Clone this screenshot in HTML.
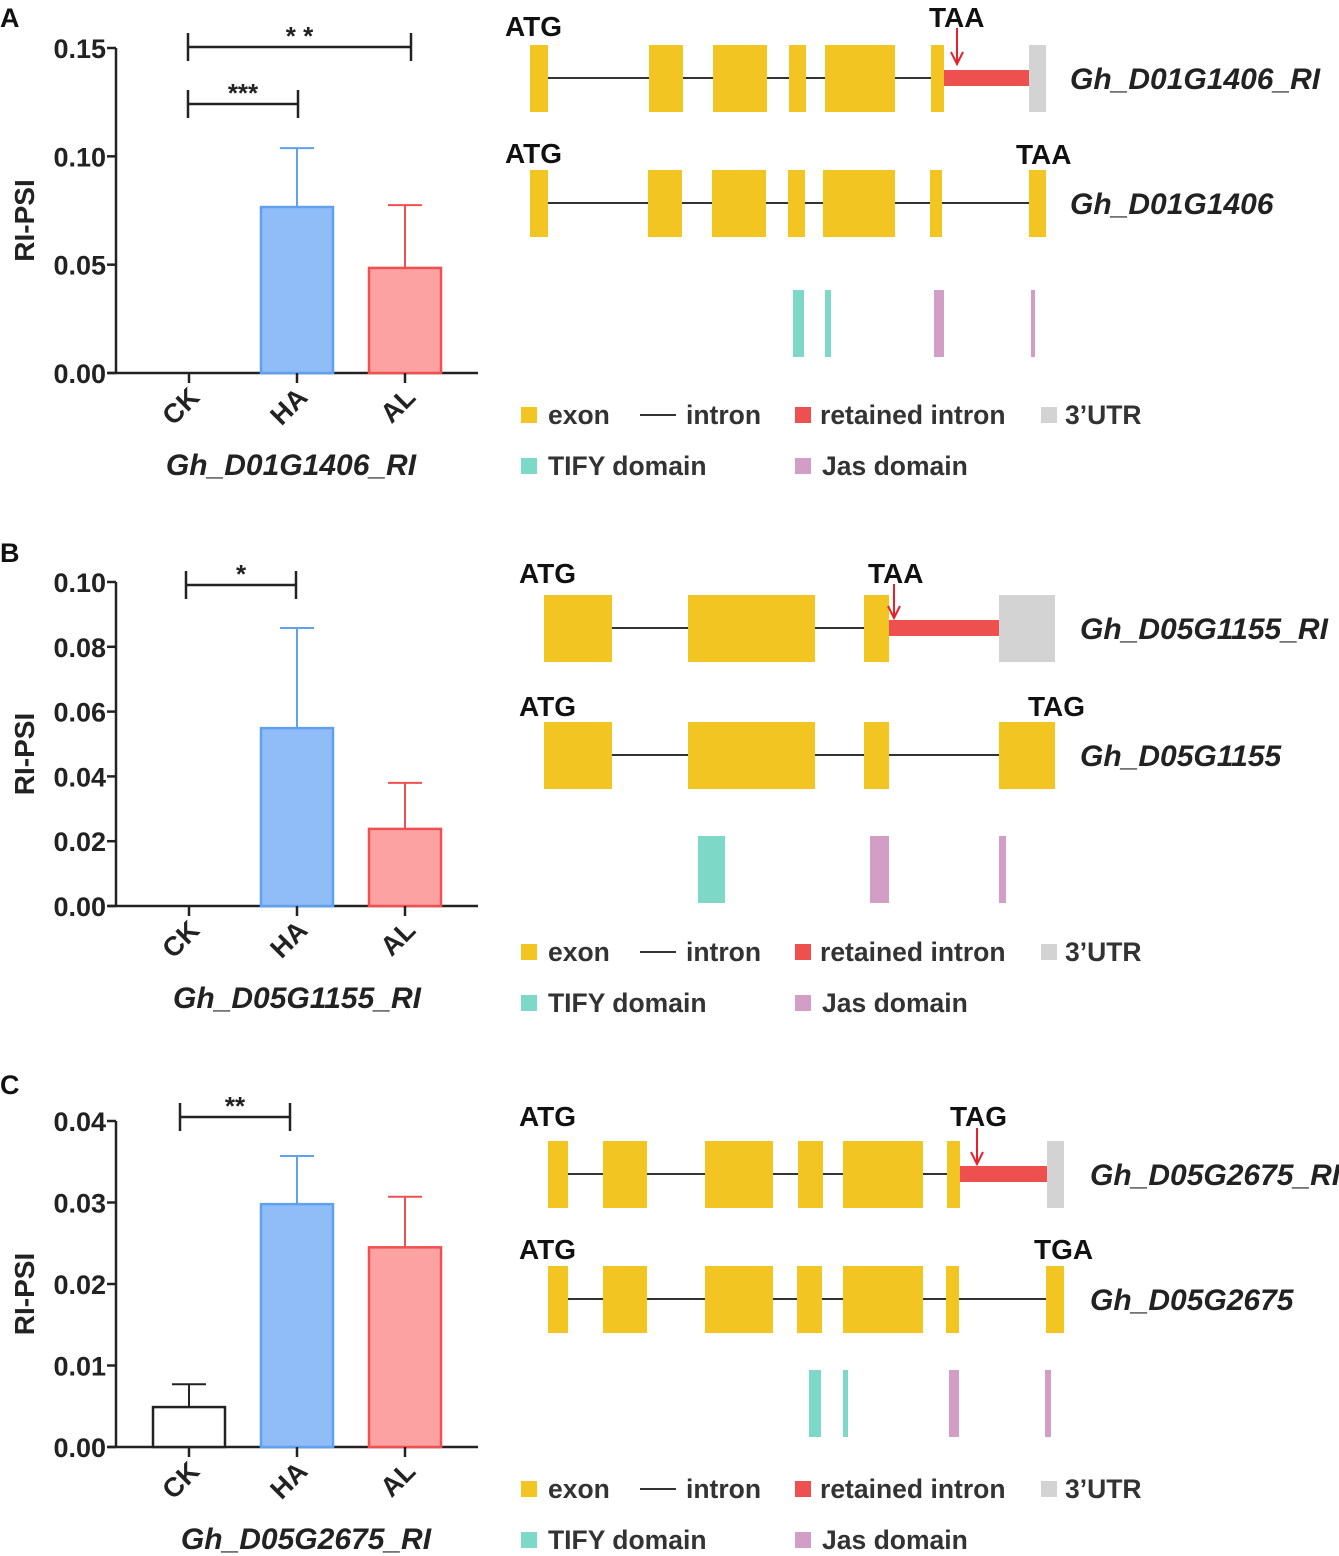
<!DOCTYPE html>
<html><head><meta charset="utf-8">
<style>
body{margin:0;background:#fff}
svg{display:block;font-family:"Liberation Sans",Arial,sans-serif}
</style></head>
<body>
<svg id="fig" width="1339" height="1556" viewBox="0 0 1339 1556" xmlns="http://www.w3.org/2000/svg"></svg>
<script>
// ---- Bar chart data ----
const categories = ["CK","HA","AL"];
const valuesA = [0, 0.0766, 0.0485];
const errorsA = [0, 0.0272, 0.029];
const valuesB = [0, 0.0549, 0.0238];
const errorsB = [0, 0.0309, 0.0142];
const valuesC = [0.0049, 0.0298, 0.0245];
const errorsC = [0.0028, 0.0059, 0.0062];
const ticksA = [0, 0.05, 0.10, 0.15];
const ticksB = [0, 0.02, 0.04, 0.06, 0.08, 0.10];
const ticksC = [0, 0.01, 0.02, 0.03, 0.04];
const tickLabelsA = ["0.00","0.05","0.10","0.15"];
const tickLabelsB = ["0.00","0.02","0.04","0.06","0.08","0.10"];
const tickLabelsC = ["0.00","0.01","0.02","0.03","0.04"];
const titles = ["Gh_D01G1406_RI","Gh_D05G1155_RI","Gh_D05G2675_RI"];

const NS="http://www.w3.org/2000/svg";
const svg=document.getElementById('fig');
function mk(tag,attrs,parent,text){const e=document.createElementNS(NS,tag);for(const k in attrs)e.setAttribute(k,attrs[k]);if(text!==undefined)e.textContent=text;(parent||svg).appendChild(e);return e;}

const fills=["#ffffff","#90bdf8","#fda2a2"];
const strokes=["#222","#5fa0ef","#f05050"];

function barChart(cfg){
  const g=mk('g',{});
  
  
  const x0=116,x1=478,yBase=cfg.y0,yTop=cfg.yTop,vmax=cfg.vmax;
  const ys=v=>yBase-(v/vmax)*(yBase-yTop);
  const xc=i=>[189,297,405][i];
  const ya=mk('line',{x1:x0,y1:yTop,x2:x0,y2:yBase,stroke:'#222','stroke-width':2.5},g);
  
  const xa=mk('line',{x1:x0-8,y1:yBase,x2:x1,y2:yBase,stroke:'#222','stroke-width':2.5},g);
  
  cfg.ticks.forEach((t,i)=>{
    mk('line',{x1:x0-9,y1:ys(t),x2:x0,y2:ys(t),stroke:'#222','stroke-width':2.5},g);
    const tl=mk('text',{x:x0-10,y:ys(t)+10,'text-anchor':'end','font-size':27,'font-weight':'bold',fill:'#222'},g,cfg.labels[i]);
    
  });
  const yt=mk('text',{x:0,y:0,transform:`translate(34,${(yTop+yBase)/2+10}) rotate(-90)`,'text-anchor':'middle','font-size':28,'font-weight':'bold',fill:'#222'},g,'RI-PSI');
  
  categories.forEach((c,i)=>{
    const v=cfg.values[i],e=cfg.errors[i];
    if(v>0){
      const top=ys(v+e);
      const el=mk('line',{x1:xc(i),y1:top,x2:xc(i),y2:ys(v),stroke:strokes[i],'stroke-width':2},g);
      
      mk('line',{x1:xc(i)-17,y1:top,x2:xc(i)+17,y2:top,stroke:strokes[i],'stroke-width':2},g);
      const b=mk('rect',{x:xc(i)-36,y:ys(v),width:72,height:yBase-ys(v),fill:fills[i],stroke:strokes[i],'stroke-width':2.5},g);
      
    }
    mk('line',{x1:xc(i),y1:yBase,x2:xc(i),y2:yBase+10,stroke:'#222','stroke-width':2.5},g);
    const xl=mk('text',{x:0,y:0,transform:`translate(${xc(i)+12},${yBase+26}) rotate(-45)`,'text-anchor':'end','font-size':27,'font-weight':'bold',fill:'#222'},g,c);
    
  });
  cfg.sig.forEach(s=>{
    mk('line',{x1:s[0],y1:s[2],x2:s[1],y2:s[2],stroke:'#222','stroke-width':2.5},g);
    mk('line',{x1:s[0],y1:s[2]-14,x2:s[0],y2:s[2]+14,stroke:'#222','stroke-width':2.5},g);
    mk('line',{x1:s[1],y1:s[2]-14,x2:s[1],y2:s[2]+14,stroke:'#222','stroke-width':2.5},g);
    const st=mk('text',{x:(s[0]+s[1])/2,y:s[2]-2,'text-anchor':'middle','font-size':26,'font-weight':'bold',fill:'#222'},g,s[3]);
    
  });
  const tt=mk('text',{x:cfg.titleX,y:yBase+102,'text-anchor':'middle','font-size':30,'font-weight':'bold','font-style':'italic',fill:'#222'},g,cfg.title);
  
}
barChart({id:'a',y0:373,yTop:48,vmax:0.15,values:valuesA,errors:errorsA,ticks:ticksA,labels:tickLabelsA,title:titles[0],titleX:291,sig:[[188,411,47,'* *'],[188,298,104,'***']]});
barChart({id:'b',y0:906,yTop:582,vmax:0.10,values:valuesB,errors:errorsB,ticks:ticksB,labels:tickLabelsB,title:titles[1],titleX:297,sig:[[186,296,585,'*']]});
barChart({id:'c',y0:1447,yTop:1121,vmax:0.04,values:valuesC,errors:errorsC,ticks:ticksC,labels:tickLabelsC,title:titles[2],titleX:306,sig:[[180,290,1117,'**']]});

[['A',18],['B',553],['C',1085]].forEach(p=>{
  const t=mk('text',{x:0,y:p[1]+9,'font-size':27,'font-weight':'bold',fill:'#111'},svg,p[0]);
  
});

// ---- Gene structures ----
const EX='#f2c523',RED='#ee5050',GRAY='#d3d3d3',TEAL='#7dd8c8',PINK='#d39ec6';
function gene(y,exons,lineFrom,lineTo,opts){
  const g=mk('g',{});
  
  
  const c=y+33;
  mk('line',{x1:lineFrom,y1:c,x2:lineTo,y2:c,stroke:'#333','stroke-width':2},g);
  exons.forEach(e=>{mk('rect',{x:e[0],y:y,width:e[1]-e[0],height:67,fill:EX},g);});
  if(opts.red){mk('rect',{x:opts.red[0],y:c-8,width:opts.red[1]-opts.red[0],height:16,fill:RED},g);
    mk('rect',{x:opts.red[1],y:y,width:opts.gray-opts.red[1],height:67,fill:GRAY},g);}
  opts.labels.forEach(l=>{mk('text',{x:l[0],y:l[1]+11,'font-size':28,'font-weight':'bold',fill:'#111'},g,l[2]);});
  if(opts.arrow){const ax=opts.arrow[0];
    mk('line',{x1:ax,y1:opts.arrow[1],x2:ax,y2:opts.arrow[2]-2,stroke:'#e8202a','stroke-width':2},g);
    mk('path',{d:`M${ax-6} ${opts.arrow[2]-12} L${ax} ${opts.arrow[2]} L${ax+6} ${opts.arrow[2]-12}`,stroke:'#e8202a','stroke-width':2,fill:'none'},g);}
  const n=mk('text',{x:opts.nx,y:c+11,'font-size':30,'font-weight':'bold','font-style':'italic',fill:'#222'},g,opts.name);
  
}
function domains(y,list){
  list.forEach(d=>{const r=mk('rect',{x:d[0],y:y,width:d[1]-d[0],height:67,fill:d[2]==='t'?TEAL:PINK});
    });
}
function legend(y){
  const g=mk('g',{});
  
  const sq=(x,yy,col)=>mk('rect',{x:x,y:yy-8,width:16,height:16,fill:col},g);
  const tx=(x,yy,s)=>mk('text',{x:x,y:yy+9,'font-size':26.5,'font-weight':'bold',fill:'#333'},g,s);
  sq(521,y,EX);tx(548,y,'exon');
  mk('line',{x1:640,y1:y,x2:676,y2:y,stroke:'#333','stroke-width':2},g);tx(686,y,'intron');
  sq(795,y,RED);tx(820,y,'retained intron');
  sq(1041,y,GRAY);tx(1065,y,'3\u2019UTR');
  sq(521,y+51,TEAL);tx(548,y+51,'TIFY domain');
  sq(795,y+51,PINK);tx(822,y+51,'Jas domain');
}
gene(45,[[530,548],[649,683],[713,767],[789,806],[825,895],[931,944]],548,931,{name:'Gh_D01G1406_RI',red:[944,1029],gray:1046,nx:1070,labels:[[505,25,'ATG'],[929,16,'TAA']],arrow:[957,28,64]});
gene(170,[[530,548],[648,682],[712,766],[788,805],[823,895],[930,942],[1029,1046]],548,1029,{name:'Gh_D01G1406',nx:1070,labels:[[505,152,'ATG'],[1016,153,'TAA']]});
domains(290,[[793,804,'t'],[825,831,'t'],[934,944,'p'],[1031,1035,'p']]);
legend(415);
gene(595,[[544,612],[688,815],[864,889]],612,864,{name:'Gh_D05G1155_RI',red:[889,999],gray:1055,nx:1080,labels:[[519,572,'ATG'],[868,572,'TAA']],arrow:[894,584,618]});
gene(722,[[544,612],[688,815],[864,889],[999,1055]],612,999,{name:'Gh_D05G1155',nx:1080,labels:[[519,705,'ATG'],[1028,705,'TAG']]});
domains(836,[[698,725,'t'],[870,889,'p'],[999,1006,'p']]);
legend(952);
gene(1141,[[548,568],[603,647],[705,773],[798,823],[843,923],[947,960]],568,947,{name:'Gh_D05G2675_RI',red:[960,1047],gray:1064,nx:1090,labels:[[519,1115,'ATG'],[950,1115,'TAG']],arrow:[977,1128,1164]});
gene(1266,[[548,568],[603,647],[705,773],[797,822],[843,923],[946,959],[1046,1064]],568,1046,{name:'Gh_D05G2675',nx:1090,labels:[[519,1248,'ATG'],[1034,1248,'TGA']]});
domains(1370,[[809,821,'t'],[843,848,'t'],[949,959,'p'],[1045,1051,'p']]);
legend(1489);
</script>
</body></html>
